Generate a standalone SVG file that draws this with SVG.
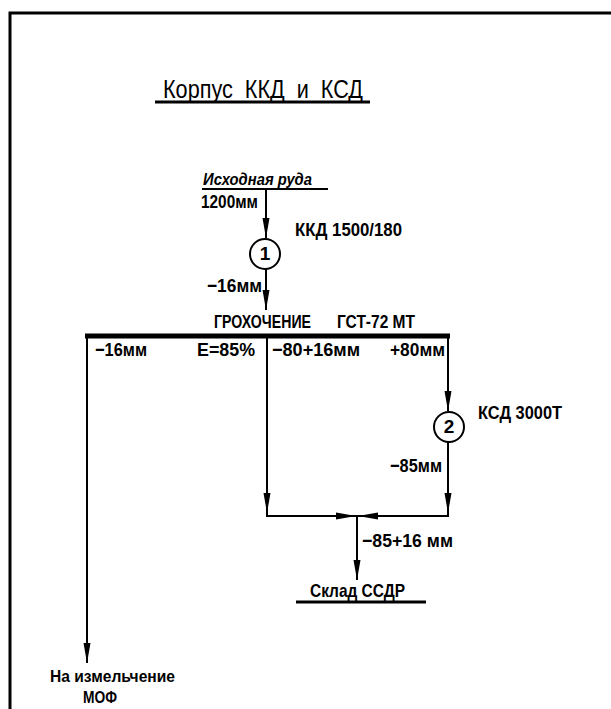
<svg xmlns="http://www.w3.org/2000/svg" width="611" height="709" viewBox="0 0 611 709">
<style>
text{font-family:"Liberation Sans",Arial,sans-serif;font-weight:bold;fill:#000;font-size:19px}
.t{font-size:26px;font-weight:normal;white-space:pre}
.s{font-size:17px}
.m{font-size:17px}
.ln{stroke:#000;stroke-width:2;fill:none}
</style>
<defs>
<marker id="a" viewBox="0 0 20 8" refX="20" refY="4" markerWidth="20" markerHeight="8" markerUnits="userSpaceOnUse" orient="auto">
<path d="M0,0.5 L20,4 L0,7.5 z" fill="#000"/>
</marker>
</defs>
<rect width="611" height="709" fill="#fff"/>
<g id="frame">
<path d="M10,709 V13 H611" stroke="#000" stroke-width="3" fill="none"/>
</g>
<g id="title">
<text class="t" xml:space="preserve" x="163" y="98" textLength="200" lengthAdjust="spacingAndGlyphs">Корпус  ККД  и  КСД</text>
<line x1="155" y1="102" x2="370" y2="102" stroke="#000" stroke-width="3"/>
</g>
<g id="source">
<text class="s" x="203" y="185" textLength="109" lengthAdjust="spacingAndGlyphs" font-style="italic">Исходная руда</text>
<line x1="202" y1="189" x2="328" y2="189" stroke="#000" stroke-width="2"/>
<text x="201" y="208" textLength="57" lengthAdjust="spacingAndGlyphs">1200мм</text>
</g>
<g id="crusher1">
<circle cx="265" cy="254" r="15" fill="#fff" stroke="#000" stroke-width="2"/>
<text x="265" y="260" text-anchor="middle" font-size="17" font-weight="normal">1</text>
<text x="295" y="236" textLength="107" lengthAdjust="spacingAndGlyphs">ККД 1500/180</text>
<text x="207" y="292" textLength="55" lengthAdjust="spacingAndGlyphs">−16мм</text>
</g>
<g id="screen">
<text x="214" y="328" textLength="97" lengthAdjust="spacingAndGlyphs">ГРОХОЧЕНИЕ</text>
<text x="337" y="328" textLength="78" lengthAdjust="spacingAndGlyphs">ГСТ-72 МТ</text>
<line x1="85" y1="336" x2="450" y2="336" stroke="#000" stroke-width="5"/>
<text x="95" y="356" textLength="52" lengthAdjust="spacingAndGlyphs">−16мм</text>
<text x="197" y="356" textLength="58" lengthAdjust="spacingAndGlyphs">Е=85%</text>
<text x="272" y="356" textLength="88" lengthAdjust="spacingAndGlyphs">−80+16мм</text>
<text x="390" y="356" textLength="55" lengthAdjust="spacingAndGlyphs">+80мм</text>
</g>
<g id="crusher2">
<circle cx="449" cy="427" r="15" fill="#fff" stroke="#000" stroke-width="2"/>
<text x="449" y="433" text-anchor="middle" font-size="17" font-weight="normal">2</text>
<text x="478" y="419" textLength="84" lengthAdjust="spacingAndGlyphs">КСД 3000Т</text>
<text x="390" y="472" textLength="52" lengthAdjust="spacingAndGlyphs">−85мм</text>
</g>
<g id="store">
<text x="362" y="547" textLength="91" lengthAdjust="spacingAndGlyphs">−85+16 мм</text>
<text x="310" y="597" textLength="95" lengthAdjust="spacingAndGlyphs">Склад ССДР</text>
<line x1="296" y1="602" x2="426" y2="602" stroke="#000" stroke-width="3"/>
</g>
<g id="mill">
<text class="m" x="50" y="682" textLength="125" lengthAdjust="spacingAndGlyphs">На измельчение</text>
<text class="m" x="83" y="703" textLength="34" lengthAdjust="spacingAndGlyphs">МОФ</text>
</g>
<g id="connectors">
<line class="ln" x1="266" y1="189" x2="266" y2="238" marker-end="url(#a)"/>
<line class="ln" x1="266" y1="269" x2="266" y2="310" marker-end="url(#a)"/>
<line class="ln" x1="87" y1="336" x2="87" y2="663" marker-end="url(#a)"/>
<line class="ln" x1="267" y1="336" x2="267" y2="513" marker-end="url(#a)"/>
<line class="ln" x1="448" y1="336" x2="448" y2="411" marker-end="url(#a)"/>
<line class="ln" x1="448" y1="442" x2="448" y2="513" marker-end="url(#a)"/>
<polyline class="ln" points="267,513 267,516 448,516 448,513"/>
<line class="ln" x1="335" y1="516" x2="356" y2="516" marker-end="url(#a)"/>
<line class="ln" x1="380" y1="516" x2="358" y2="516" marker-end="url(#a)"/>
<line class="ln" x1="357" y1="516" x2="357" y2="580" marker-end="url(#a)"/>
</g>
</svg>
